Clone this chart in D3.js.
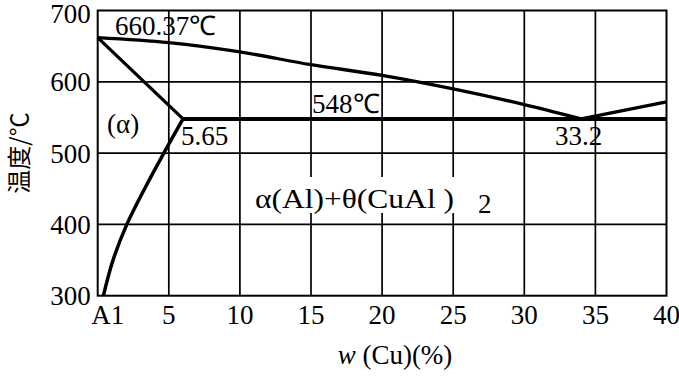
<!DOCTYPE html>
<html>
<head>
<meta charset="utf-8">
<script src="https://cdn.jsdelivr.net/npm/d3@7"></script>
<style>
  body { margin: 0; background: #fff; }
  svg { display: block; }
  text { font-family: "Liberation Serif", "Times New Roman", serif; fill: #000; }
</style>
</head>
<body>
<div id="chart"></div>
<script>
// Al-Cu phase diagram
const xTicks = [0, 5, 10, 15, 20, 25, 30, 35, 40];
const xTickLabels = ["A1", "5", "10", "15", "20", "25", "30", "35", "40"];
const yTicks = [300, 400, 500, 600, 700];

const liquidusLeft = [[0, 662], [5, 655], [10, 642], [15, 624], [20, 609], [25, 590], [30, 568], [34, 548]];
const liquidusRight = [[34, 548], [40, 572]];
const solvusTop = [[0, 662], [6.0, 548]];
const solidusCurve = [[6.0, 548], [4.65, 500], [3.3, 450], [2.05, 400], [1.08, 350], [0.4, 300]];
const eutecticLine = [[6.0, 548], [40, 548]];

const width = 679, height = 376;
const plotLeft = 97.7, plotRight = 666.5, plotTop = 10.5, plotBottom = 295.7;

const svg = d3.select("#chart").append("svg")
    .attr("width", width)
    .attr("height", height);

const x = d3.scaleLinear().domain([0, 40]).range([plotLeft, plotRight]);
const y = d3.scaleLinear().domain([300, 700]).range([plotBottom, plotTop]);

// grid
const grid = svg.append("g").attr("stroke", "#000").attr("stroke-width", 1.7);
grid.selectAll("line.v")
    .data(xTicks.slice(1, -1))
    .enter().append("line")
    .attr("x1", d => x(d)).attr("x2", d => x(d))
    .attr("y1", plotTop).attr("y2", plotBottom);
grid.selectAll("line.h")
    .data(yTicks.slice(1, -1))
    .enter().append("line")
    .attr("x1", plotLeft).attr("x2", plotRight)
    .attr("y1", d => y(d)).attr("y2", d => y(d));

// white patch behind the phase label (grid is broken there)
svg.append("rect")
    .attr("x", 252).attr("y", 177)
    .attr("width", 206).attr("height", 36)
    .attr("fill", "#fff");

svg.append("rect")
    .attr("x", plotLeft).attr("y", plotTop)
    .attr("width", plotRight - plotLeft).attr("height", plotBottom - plotTop)
    .attr("fill", "none").attr("stroke", "#000").attr("stroke-width", 2);

// tick labels
svg.selectAll("text.ytick")
    .data(yTicks)
    .enter().append("text")
    .attr("x", plotLeft - 7)
    .attr("y", d => Math.max(y(d), 14))
    .attr("dy", "0.35em")
    .attr("text-anchor", "end")
    .attr("font-size", 27)
    .text(d => d);

svg.selectAll("text.xtick")
    .data(xTicks)
    .enter().append("text")
    .attr("x", (d, i) => x(d) + (i === 0 ? 10 : 0))
    .attr("y", 324)
    .attr("text-anchor", "middle")
    .attr("font-size", 27)
    .text((d, i) => xTickLabels[i]);

// phase lines
const line = d3.line().x(d => x(d[0])).y(d => y(d[1]));
const smoothX = d3.line().x(d => x(d[0])).y(d => y(d[1])).curve(d3.curveMonotoneX);
const smoothY = d3.line().x(d => x(d[0])).y(d => y(d[1])).curve(d3.curveMonotoneY);

const marks = svg.append("g").attr("fill", "none").attr("stroke", "#000")
    .attr("stroke-linejoin", "round");
marks.append("path").attr("d", smoothX(liquidusLeft)).attr("stroke-width", 3.3);
marks.append("path").attr("d", line(liquidusRight)).attr("stroke-width", 3.3);
marks.append("path").attr("d", line(solvusTop)).attr("stroke-width", 3.3);
marks.append("path").attr("d", smoothY(solidusCurve)).attr("stroke-width", 3.5);
marks.append("path").attr("d", line(eutecticLine)).attr("stroke-width", 4);

// annotations
const ann = svg.append("g").attr("font-size", 27);
ann.append("text").attr("x", 115).attr("y", 35).text("660.37℃");
ann.append("text").attr("x", 107).attr("y", 133).text("(α)");
ann.append("text").attr("x", 181).attr("y", 145).text("5.65");
ann.append("text").attr("x", 312).attr("y", 113).text("548℃");
ann.append("text").attr("x", 555).attr("y", 145).text("33.2");
ann.append("text").attr("x", 255).attr("y", 208)
    .attr("textLength", 199).attr("lengthAdjust", "spacingAndGlyphs")
    .text("α(Al)+θ(CuAl )");
ann.append("text").attr("x", 478).attr("y", 213).text("2");

// axis titles
const xt = svg.append("text")
    .attr("x", 395).attr("y", 364)
    .attr("text-anchor", "middle")
    .attr("font-size", 27);
xt.append("tspan").attr("font-style", "italic").text("w");
xt.append("tspan").text(" (Cu)(%)");

svg.append("text")
    .attr("transform", "translate(28,153) rotate(-90)")
    .attr("text-anchor", "middle")
    .attr("font-size", 24)
    .style("font-family", "'Noto Sans CJK SC', 'Liberation Serif', serif")
    .text("温度/℃");
</script>
</body>
</html>
